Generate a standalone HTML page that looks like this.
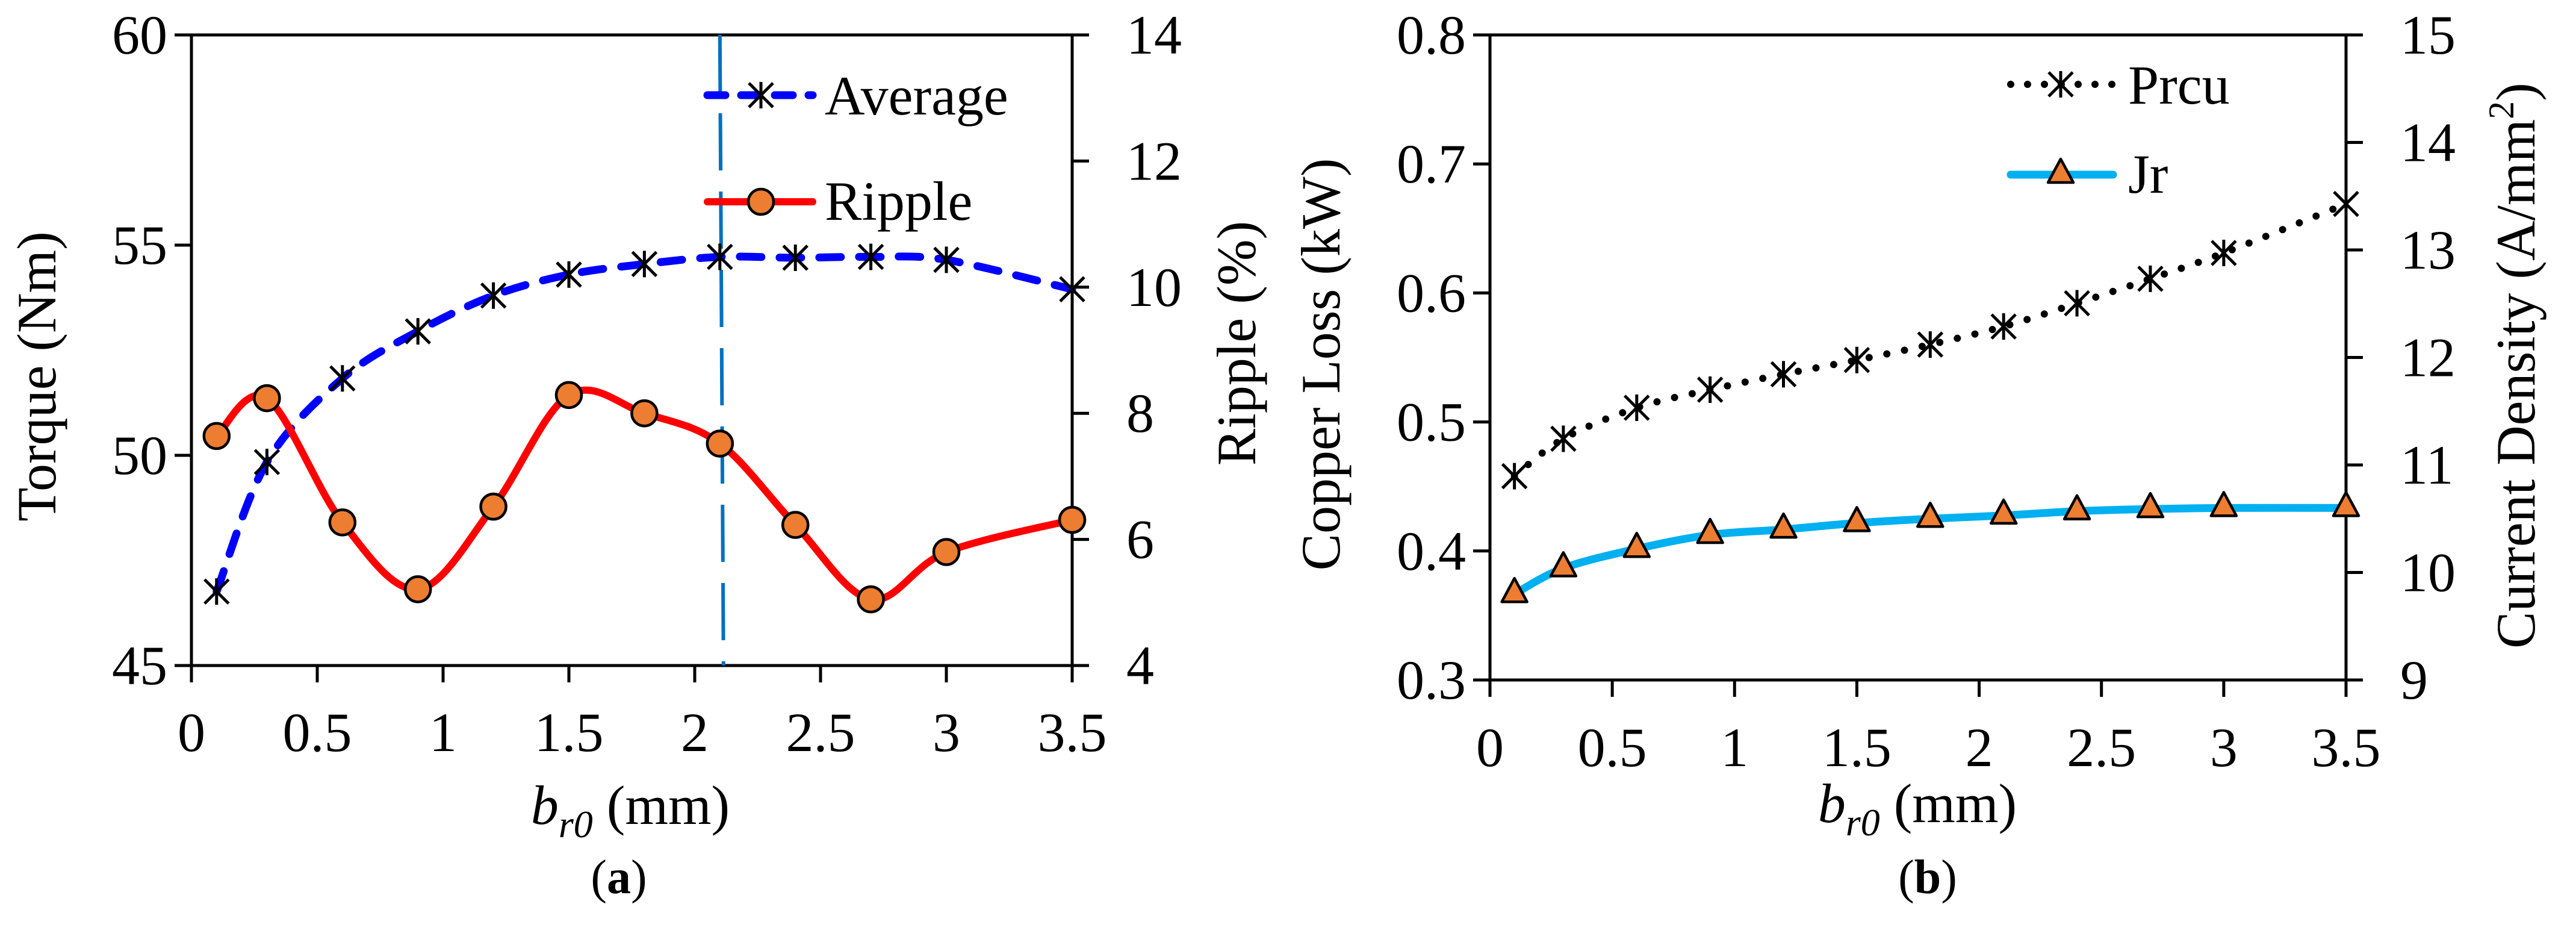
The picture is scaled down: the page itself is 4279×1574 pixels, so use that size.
<!DOCTYPE html>
<html><head><meta charset="utf-8">
<style>
html,body{margin:0;padding:0;background:#fff;}
svg, svg text, svg tspan{font-family:"Liberation Serif","Times New Roman",Times,"DejaVu Serif",serif !important;}
</style></head>
<body>
<svg id="chart" width="4279" height="1569" viewBox="0 0 4279 1569" xmlns="http://www.w3.org/2000/svg"></svg>
<script>
// ---- Data: chart (a)
const xValsA = [0.1,0.3,0.6,0.9,1.2,1.5,1.8,2.1,2.4,2.7,3.0,3.5];
const torqueAvg = [46.76,49.84,51.83,52.95,53.8,54.3,54.55,54.72,54.7,54.72,54.65,53.95];
const rippleVals = [7.64,8.24,6.27,5.21,6.52,8.29,8.0,7.52,6.23,5.05,5.8,6.31];
const xTicksA = [0,0.5,1,1.5,2,2.5,3,3.5];
const yTicksA = [45,50,55,60];
const y2TicksA = [4,6,8,10,12,14];
const markerLineX = [2.1];
// ---- Data: chart (b)
const xValsB = [0.1,0.3,0.6,0.9,1.2,1.5,1.8,2.1,2.4,2.7,3.0,3.5];
const prcuVals = [0.458,0.487,0.511,0.525,0.537,0.548,0.56,0.574,0.592,0.611,0.631,0.669];
const jrVals = [9.8,10.04,10.22,10.35,10.40,10.46,10.5,10.53,10.57,10.59,10.60,10.60];
const xTicksB = [0,0.5,1,1.5,2,2.5,3,3.5];
const yTicksB = [0.3,0.4,0.5,0.6,0.7,0.8];
const y2TicksB = [9,10,11,12,13,14,15];

const NS="http://www.w3.org/2000/svg";
const svg=document.getElementById('chart');
function mk(tag,attrs,parent){const e=document.createElementNS(NS,tag);for(const k in attrs)e.setAttribute(k,attrs[k]);(parent||svg).appendChild(e);return e;}
function lin(d0,d1,r0,r1){return v=>r0+(v-d0)/(d1-d0)*(r1-r0);}
function smooth(pts){let d=`M${pts[0][0]},${pts[0][1]}`;for(let i=0;i<pts.length-1;i++){const p0=pts[Math.max(0,i-1)],p1=pts[i],p2=pts[i+1],p3=pts[Math.min(pts.length-1,i+2)];const c1x=p1[0]+(p2[0]-p0[0])/6,c1y=p1[1]+(p2[1]-p0[1])/6,c2x=p2[0]-(p3[0]-p1[0])/6,c2y=p2[1]-(p3[1]-p1[1])/6;d+=` C${c1x},${c1y} ${c2x},${c2y} ${p2[0]},${p2[1]}`;}return d;}
function star(g,cx,cy){const r=22;mk('line',{x1:cx,y1:cy-r,x2:cx,y2:cy+r,stroke:'#000','stroke-width':5},g);mk('line',{x1:cx-20,y1:cy-20,x2:cx+20,y2:cy+20,stroke:'#000','stroke-width':5},g);mk('line',{x1:cx-20,y1:cy+20,x2:cx+20,y2:cy-20,stroke:'#000','stroke-width':5},g);}
function circ(g,cx,cy){mk('circle',{cx:cx,cy:cy,r:21,fill:'#ed7d31',stroke:'#000','stroke-width':4.5},g);}
function tri(g,cx,cy){mk('polygon',{points:`${cx},${cy-26} ${cx-21},${cy+13} ${cx+21},${cy+13}`,fill:'#ed7d31',stroke:'#000','stroke-width':4.5,'stroke-linejoin':'round'},g);}
function txt(s,x,y,opts,parent){const t=mk('text',Object.assign({x:x,y:y,'font-size':92,fill:'#000'},opts||{}),parent);t.textContent=s;return t;}

function axes(cfg){
  const {L,R,T,B,xd,yd,y2d,xt,yt,y2t,fmtY,fmtY2,name,tickBase}=cfg;
  const g=mk('g',{});
  
  
  const X=lin(xd[0],xd[1],L,R),Y=lin(yd[0],yd[1],B,T),Y2=lin(y2d[0],y2d[1],B,T);
  mk('rect',{x:L,y:T,width:R-L,height:B-T,fill:'none',stroke:'#000','stroke-width':5},g);
  xt.forEach(v=>{const x=X(v);mk('line',{x1:x,y1:B,x2:x,y2:B+28,stroke:'#000','stroke-width':5},g);
    const t=txt(String(v),x,tickBase,{'text-anchor':'middle'},g);});
  yt.forEach(v=>{const y=Y(v);mk('line',{x1:L-28,y1:y,x2:L,y2:y,stroke:'#000','stroke-width':5},g);
    const t=txt(fmtY(v),L-40,y+31,{'text-anchor':'end'},g);});
  y2t.forEach(v=>{const y=Y2(v);mk('line',{x1:R,y1:y,x2:R+28,y2:y,stroke:'#000','stroke-width':5},g);
    const t=txt(fmtY2(v),R+90,y+31,{'text-anchor':'start'},g);});
  return {X,Y,Y2};
}

// ---------- Chart (a)
const A=axes({L:318,R:1781,T:58,B:1105,xd:[0,3.5],yd:[45,60],y2d:[4,14],xt:xTicksA,yt:yTicksA,y2t:y2TicksA,fmtY:v=>String(v),fmtY2:v=>String(v),name:'chart-a',tickBase:1247});
const vl=mk('line',{x1:A.X(markerLineX[0]),y1:58,x2:A.X(markerLineX[0])+6,y2:1105,stroke:'#0070c0','stroke-width':6,'stroke-dasharray':'95,35'});


const gAvg=mk('g',{});


mk('path',{d:smooth(xValsA.map((x,i)=>[A.X(x),A.Y(torqueAvg[i])])),fill:'none',stroke:'#0000ff','stroke-width':13,'stroke-dasharray':'36,30','stroke-linecap':'round'},gAvg);
const gRip=mk('g',{});


mk('path',{d:smooth(xValsA.map((x,i)=>[A.X(x),A.Y2(rippleVals[i])])),fill:'none',stroke:'#ff0000','stroke-width':12},gRip);
xValsA.forEach((x,i)=>star(gAvg,A.X(x),A.Y(torqueAvg[i])));
xValsA.forEach((x,i)=>circ(gRip,A.X(x),A.Y2(rippleVals[i])));
const lgA=mk('g',{});


mk('line',{x1:1175,y1:158,x2:1350,y2:158,stroke:'#0000ff','stroke-width':13,'stroke-dasharray':'30,26','stroke-linecap':'round'},lgA);
star(lgA,1264,158);
txt('Average',1370,190,{},lgA);
mk('line',{x1:1175,y1:335,x2:1350,y2:335,stroke:'#ff0000','stroke-width':12,'stroke-linecap':'round'},lgA);
circ(lgA,1264,335);
txt('Ripple',1370,365,{},lgA);
let t;
t=txt('Torque (Nm)',0,0,{'text-anchor':'middle',transform:'translate(92,625) rotate(-90)'});

t=txt('Ripple (%)',0,0,{'text-anchor':'middle',transform:'translate(2085,570) rotate(-90)'});

t=mk('text',{x:1047,y:1368,'font-size':92,'text-anchor':'middle'});
t.innerHTML='<tspan font-style="italic">b</tspan><tspan font-style="italic" font-size="64" dy="22">r0</tspan><tspan dy="-22"> (mm)</tspan>';

t=mk('text',{x:1028,y:1483,'font-size':80,'text-anchor':'middle'});
t.innerHTML='(<tspan font-weight="bold">a</tspan>)';


// ---------- Chart (b)
const Bc=axes({L:2475,R:3897,T:58,B:1129,xd:[0,3.5],yd:[0.3,0.8],y2d:[9,15],xt:xTicksB,yt:yTicksB,y2t:y2TicksB,fmtY:v=>v.toFixed(1),fmtY2:v=>String(v),name:'chart-b',tickBase:1272});
const gPr=mk('g',{});


mk('path',{d:smooth(xValsB.map((x,i)=>[Bc.X(x),Bc.Y(prcuVals[i])])),fill:'none',stroke:'#000','stroke-width':12,'stroke-dasharray':'0,30','stroke-linecap':'round'},gPr);
const gJr=mk('g',{});


mk('path',{d:smooth(xValsB.map((x,i)=>[Bc.X(x),Bc.Y2(jrVals[i])])),fill:'none',stroke:'#00b0f0','stroke-width':13},gJr);
xValsB.forEach((x,i)=>star(gPr,Bc.X(x),Bc.Y(prcuVals[i])));
xValsB.forEach((x,i)=>tri(gJr,Bc.X(x),Bc.Y2(jrVals[i])));
const lgB=mk('g',{});


mk('line',{x1:3340,y1:140,x2:3510,y2:140,stroke:'#000','stroke-width':12,'stroke-dasharray':'0,28','stroke-linecap':'round'},lgB);
star(lgB,3423,140);
txt('Prcu',3535,172,{},lgB);
mk('line',{x1:3340,y1:290,x2:3510,y2:290,stroke:'#00b0f0','stroke-width':13,'stroke-linecap':'round'},lgB);
tri(lgB,3423,290);
txt('Jr',3535,320,{},lgB);
t=txt('Copper Loss (kW)',0,0,{'text-anchor':'middle',transform:'translate(2225,605) rotate(-90)'});

t=mk('text',{x:0,y:0,'font-size':92,'text-anchor':'middle',transform:'translate(4210,607) rotate(-90)'});
t.innerHTML='Current Density (A/mm<tspan font-size="60" dy="-35">2</tspan><tspan dy="35">)</tspan>';

t=mk('text',{x:3185,y:1365,'font-size':92,'text-anchor':'middle'});
t.innerHTML='<tspan font-style="italic">b</tspan><tspan font-style="italic" font-size="64" dy="22">r0</tspan><tspan dy="-22"> (mm)</tspan>';

t=mk('text',{x:3202,y:1483,'font-size':80,'text-anchor':'middle'});
t.innerHTML='(<tspan font-weight="bold">b</tspan>)';

</script>
</body></html>
